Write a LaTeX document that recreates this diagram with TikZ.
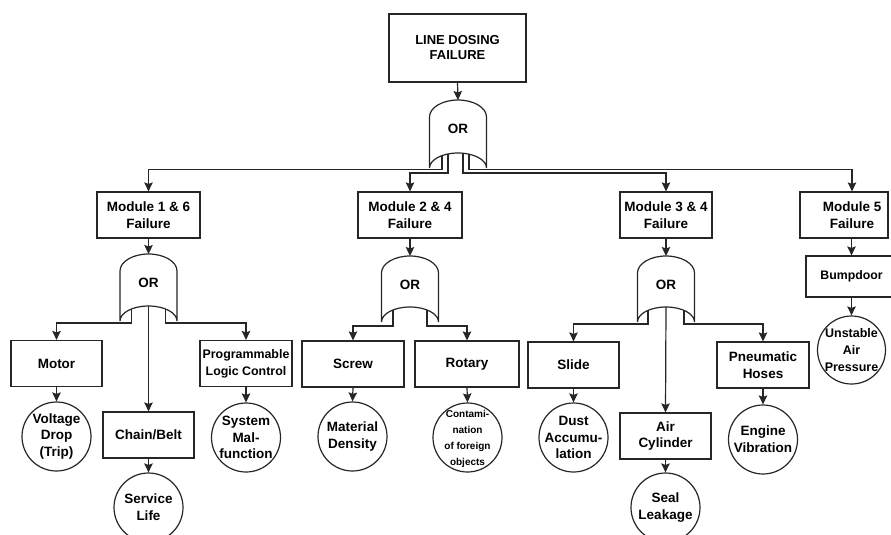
\documentclass[tikz,border=0pt]{standalone}
\usepackage{fontspec}
\setmainfont{Liberation Sans}
\usetikzlibrary{arrows.meta}
\newcommand\orgate[4]{% name, cx, ya, yb
  \draw[gate] (#2-28.5,-#4) -- (#2-28.5,-#3-17) arc[start angle=180,end angle=0,x radius=28.5pt,y radius=17pt] -- (#2+28.5,-#4) arc[start angle=0,end angle=180,x radius=28.5pt,y radius=15pt] -- cycle;
  \node[gtxt] (#1txt) at (#2,-#3-29) {OR};
  \coordinate (#1) at (#2,-#3);
}
\begin{document}
\begin{tikzpicture}[x=1pt,y=1pt,
  ln/.style={draw=black!85, line width=1.2pt},
  arr/.style={ln, -{Stealth[length=9pt,width=8.5pt,inset=1.5pt]}},
  box/.style={draw=black!85, line width=1.2pt, rectangle, inner sep=0pt, align=center, font=\fontsize{13.5}{16.7}\selectfont\bfseries, minimum height=46pt},
  leaf/.style={draw=black!85, line width=1.2pt, circle, minimum size=69pt, inner sep=0pt},
  ltxt/.style={align=center, inner sep=0pt, font=\fontsize{13.5}{16.7}\selectfont\bfseries},
  gate/.style={draw=black!85, line width=1.2pt, fill=white},
  gtxt/.style={font=\fontsize{13.5}{16}\selectfont\bfseries, inner sep=0pt}
]
\useasboundingbox (0,0) rectangle (891,-535);

% ---------- top ----------
\node[box, minimum width=137pt, minimum height=68pt, font=\fontsize{13}{15}\selectfont\bfseries] (top) at (457.5,-48) {LINE DOSING\\FAILURE};
\orgate{gT}{458}{100}{168}
\coordinate (tA) at (442,-155.6);
\coordinate (tB) at (448,-154.0);
\coordinate (tC) at (463,-153.2);
\coordinate (tD) at (469,-154.2);
\draw[arr] (top.south) -- (gT);

% ---------- modules ----------
\node[box, minimum width=103pt] (m16) at (148.5,-215) {Module 1 \& 6\\Failure};
\node[box, minimum width=104pt] (m24) at (410,-215) {Module 2 \& 4\\Failure};
\node[box, minimum width=92pt] (m34) at (666,-215) {Module 3 \& 4\\Failure};
\node[box, minimum width=88pt] (m5) at (844,-215) {};
\node[ltxt] (m5t) at (852,-215) {Module 5\\Failure};

\draw[arr] (tA) -- ++(0,-14) -| (m16.north);
\draw[arr] (tB) -- ++(0,-19) -| (m24.north);
\draw[arr] (tC) -- ++(0,-19.8) -| (m34.north);
\draw[arr] (tD) -- ++(0,-15) -| (m5t |- m5.north);

% ---------- gates ----------
\orgate{g1}{148.5}{254}{321}
\orgate{g2}{410}{256}{322}
\orgate{g3}{666}{256}{322}
\draw[arr] (m16.south) -- (g1);
\draw[arr] (m24.south) -- (g2);
\draw[arr] (m34.south) -- (g3);

\coordinate (g1L) at (131.5,-309);
\coordinate (g1M) at (148.5,-306);
\coordinate (g1R) at (165.5,-309);
\coordinate (g2L) at (393,-310);
\coordinate (g2R) at (427,-310);
\coordinate (g3L) at (648,-310.4);
\coordinate (g3M) at (666,-307);
\coordinate (g3R) at (684,-310.4);

% ---------- level 3 boxes ----------
\node[box, minimum width=91pt] (motor) at (56.5,-363.5) {Motor};
\node[box, minimum width=91pt] (chain) at (148.5,-435) {Chain/Belt};
\node[box, minimum width=92pt, font=\fontsize{12.4}{17}\selectfont\bfseries] (plc) at (246,-363.5) {Programmable\\Logic Control};
\node[box, minimum width=102pt] (screw) at (353,-364) {Screw};
\node[box, minimum width=104pt] (rotary) at (467,-364) {Rotary};
\node[box, minimum width=91pt] (slide) at (573.5,-365) {Slide};
\node[box, minimum width=91pt] (aircyl) at (665.5,-436) {Air\\Cylinder};
\node[box, minimum width=92pt] (hoses) at (763,-365) {Pneumatic\\Hoses};
\node[box, minimum width=91pt, minimum height=41pt, font=\fontsize{12.3}{15}\selectfont\bfseries] (bump) at (851.5,-276.5) {Bumpdoor};

\draw[arr] (g1L) -- ++(0,-14) -| (motor.north);
\draw[arr] (g1M) -- (chain.north);
\draw[arr] (g1R) -- ++(0,-14) -| (plc.north);
\draw[arr] (g2L) -- ++(0,-16) -| (screw.north);
\draw[arr] (g2R) -- ++(0,-16) -| (rotary.north);
\draw[arr] (g3L) -- ++(0,-13.6) -| (slide.north);
\draw[arr] (g3M) -- (aircyl.north);
\draw[arr] (g3R) -- ++(0,-13.6) -| (hoses.north);
\draw[arr] (bump.north |- m5.south) -- (bump.north);

% ---------- leaves ----------
\node[leaf] (c1) at (56.5,-436.5) {};
\node[ltxt] (c1t) at (c1) {Voltage\\Drop\\(Trip)};
\node[leaf] (c2) at (148.5,-507.5) {};
\node[ltxt] (c2t) at (c2) {Service\\Life};
\node[leaf] (c3) at (246,-437.5) {};
\node[ltxt] (c3t) at (c3) {System\\Mal-\\function};
\node[leaf] (c4) at (352.5,-436.5) {};
\node[ltxt] (c4t) at (c4) {Material\\Density};
\node[leaf] (c5) at (467.5,-437.5) {};
\node[ltxt, font=\fontsize{10}{16}\selectfont\bfseries] (c5t) at ([yshift=-1.5pt]c5) {Contami-\\nation\\of foreign\\objects};
\node[leaf] (c6) at (573.5,-437.5) {};
\node[ltxt] (c6t) at (c6) {Dust\\Accumu-\\lation};
\node[leaf] (c7) at (665.5,-507.5) {};
\node[ltxt] (c7t) at (c7) {Seal\\Leakage};
\node[leaf] (c8) at (763,-439.5) {};
\node[ltxt] (c8t) at (c8) {Engine\\Vibration};
\node[leaf, minimum size=68pt] (c9) at (851.5,-350) {};
\node[ltxt, font=\fontsize{12.5}{16.7}\selectfont\bfseries] (c9t) at (c9) {Unstable\\Air\\Pressure};

\draw[arr] (motor.south) -- (c1.north);
\draw[arr] (chain.south) -- (c2.north);
\draw[arr] (plc.south) -- (c3.north);
\draw[arr] (screw.south) -- (c4.north);
\draw[arr] (rotary.south) -- (c5.north);
\draw[arr] (slide.south) -- (c6.north);
\draw[arr] (aircyl.south) -- (c7.north);
\draw[arr] (hoses.south) -- (c8.north);
\draw[arr] (bump.south) -- (c9.north);
\end{tikzpicture}
\end{document}
